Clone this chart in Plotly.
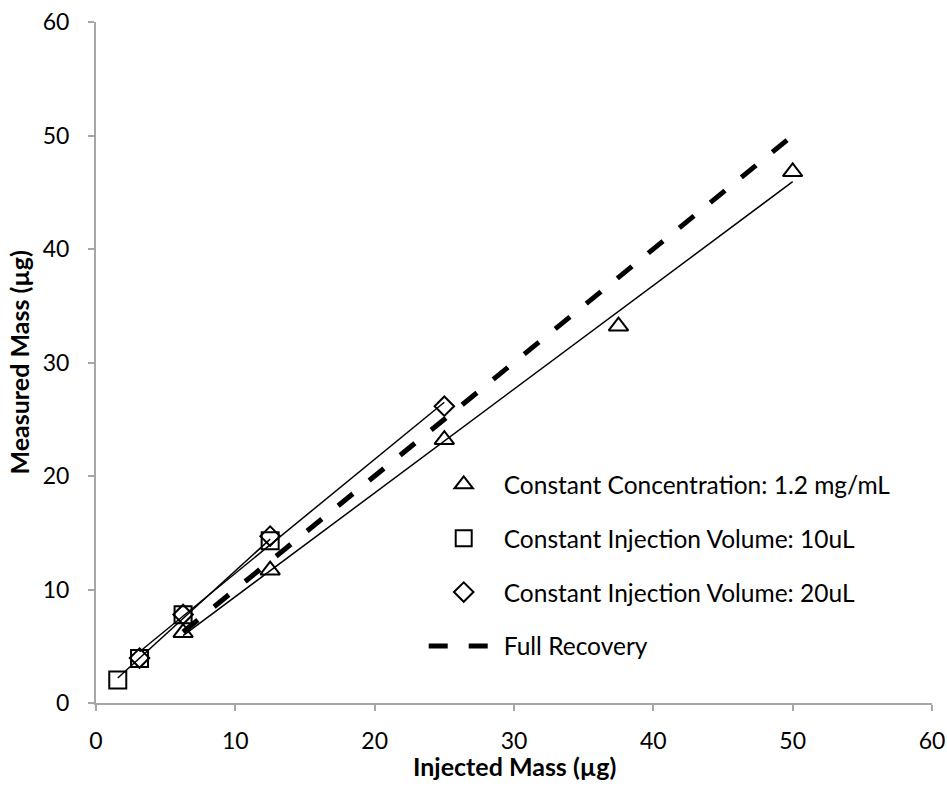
import numpy as np
import plotly.graph_objects as go

# ---- data ----
conc_x = [6.25, 12.5, 25, 37.5, 50]
conc_y = [6.2, 11.7, 23.2, 33.2, 46.8]

vol10_x = [1.5625, 3.125, 6.25, 12.5]
vol10_y = [2.03, 3.92, 7.77, 14.3]

vol20_x = [3.125, 6.25, 12.5, 25]
vol20_y = [3.96, 7.8, 14.7, 26.15]

full_x = [6.25, 50]
full_y = [6.25, 50]

x_ticks = [0, 10, 20, 30, 40, 50, 60]
y_ticks = [0, 10, 20, 30, 40, 50, 60]

names = ["Constant Concentration: 1.2 mg/mL",
         "Constant Injection Volume: 10uL",
         "Constant Injection Volume: 20uL",
         "Full Recovery"]

FONT = "Lato"
AXC = "#a6a6a6"


def trend(xs, ys):
    m, b = np.polyfit(xs, ys, 1)
    xe = np.array([min(xs), max(xs)])
    return xe, m * xe + b


fig = go.Figure()

# trendlines (linear fits, no legend)
for xs, ys in [(conc_x, conc_y), (vol10_x, vol10_y), (vol20_x, vol20_y)]:
    tx, ty = trend(xs, ys)
    fig.add_trace(go.Scatter(x=tx, y=ty, mode="lines", showlegend=False,
                             line=dict(color="black", width=1.5),
                             hoverinfo="skip"))

fig.add_trace(go.Scatter(x=conc_x, y=conc_y, mode="markers", name=names[0],
                         legendgroup="a",
                         marker=dict(symbol="triangle-up-open", size=17,
                                     color="black", line=dict(width=2, color="black"))))
fig.add_trace(go.Scatter(x=vol10_x, y=vol10_y, mode="markers", name=names[1],
                         legendgroup="b",
                         marker=dict(symbol="square-open", size=17,
                                     color="black", line=dict(width=2, color="black"))))
fig.add_trace(go.Scatter(x=vol20_x, y=vol20_y, mode="markers", name=names[2],
                         legendgroup="c",
                         marker=dict(symbol="diamond-open", size=15,
                                     color="black", line=dict(width=2, color="black"))))
fig.add_trace(go.Scatter(x=full_x, y=full_y, mode="lines", name=names[3],
                         legendgroup="d",
                         line=dict(color="black", width=5, dash="19px,21px")))

axis_common = dict(
    showline=True, linecolor=AXC, linewidth=2,
    ticks="outside", ticklen=6, tickwidth=2, tickcolor=AXC,
    showgrid=False, zeroline=False, automargin=False,
    tickfont=dict(family=FONT, size=23, color="black"),
    range=[0, 60], fixedrange=True,
)

fig.update_layout(
    width=947, height=791,
    margin=dict(l=96, r=15, t=22, b=88, autoexpand=False),
    paper_bgcolor="white", plot_bgcolor="white",
    font=dict(family=FONT, color="black"),
    xaxis=dict(**axis_common, tickvals=x_ticks, ticklabelstandoff=10),
    yaxis=dict(**axis_common, tickvals=y_ticks, ticklabelstandoff=14),
    legend=dict(x=0.392, y=0.354, xanchor="left", yanchor="top",
                font=dict(family=FONT, size=24.5, color="black"),
                itemwidth=70, tracegroupgap=19, traceorder="grouped",
                bgcolor="rgba(0,0,0,0)"),
    annotations=[
        dict(text="<b>Injected Mass (µg)</b>", xref="paper", yref="paper",
             x=0.5, y=0, xanchor="center", yanchor="middle", yshift=-63,
             showarrow=False, font=dict(family=FONT, size=25, color="black")),
        dict(text="<b>Measured Mass (µg)</b>", xref="paper", yref="paper",
             x=0, y=0.5, xanchor="center", yanchor="middle", xshift=-78,
             textangle=-90, showarrow=False,
             font=dict(family=FONT, size=25, color="black")),
    ],
)

fig.write_html("out.html")
